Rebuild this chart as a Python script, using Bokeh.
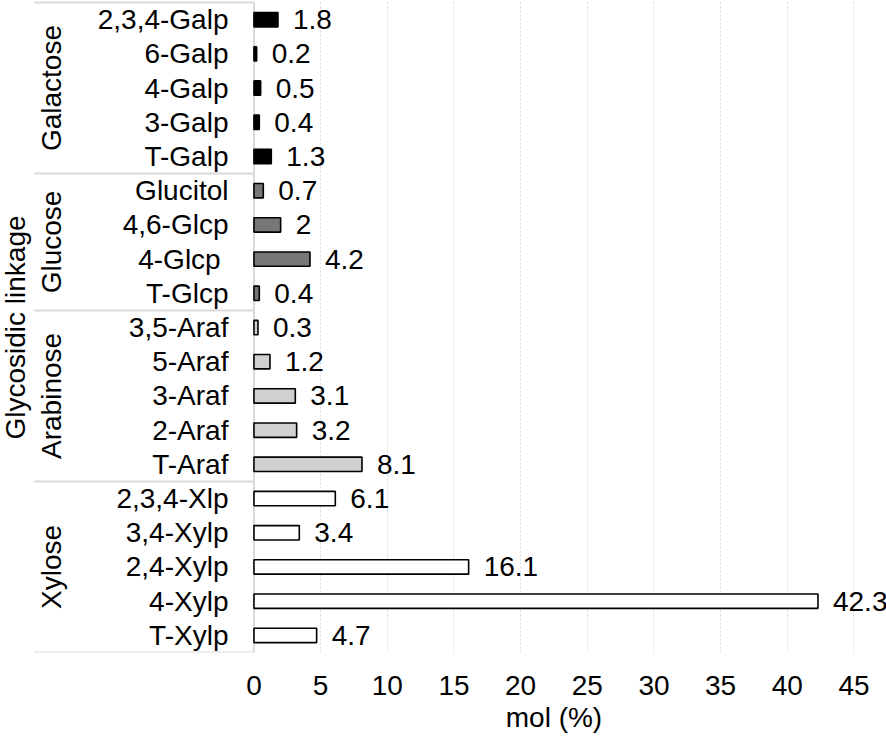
import math
from bokeh.plotting import figure
from bokeh.models import Range1d, FixedTicker, ColumnDataSource, LinearAxis
from bokeh.core.properties import value
from bokeh.embed import file_html
from bokeh.resources import INLINE

# ---- data (top to bottom as in the chart) ----
linkages = ["2,3,4-Galp", "6-Galp", "4-Galp", "3-Galp", "T-Galp",
            "Glucitol", "4,6-Glcp", "4-Glcp ", "T-Glcp",
            "3,5-Araf", "5-Araf", "3-Araf", "2-Araf", "T-Araf",
            "2,3,4-Xlp", "3,4-Xylp", "2,4-Xylp", "4-Xylp", "T-Xylp"]
mol_percent = [1.8, 0.2, 0.5, 0.4, 1.3,
               0.7, 2, 4.2, 0.4,
               0.3, 1.2, 3.1, 3.2, 8.1,
               6.1, 3.4, 16.1, 42.3, 4.7]
groups = (["Galactose"] * 5 + ["Glucose"] * 4 +
          ["Arabinose"] * 5 + ["Xylose"] * 5)
group_names = ["Galactose", "Glucose", "Arabinose", "Xylose"]
x_ticks = [0, 5, 10, 15, 20, 25, 30, 35, 40, 45]
x_title = "mol (%)"
y_title = "Glycosidic linkage"

# ---- styles ----
group_fill = {"Galactose": "#000000", "Glucose": "#777777",
              "Arabinose": "#d0d0d0", "Xylose": "#ffffff"}
FONT = "Liberation Sans"
FS = "28px"
GRAY = "#d9d9d9"

n = len(linkages)
ys = [n - 1 - i for i in range(n)]
labels = [f"{v:g}" for v in mol_percent]

src = ColumnDataSource(dict(y=ys, v=mol_percent, name=linkages, lab=labels,
                            fill=[group_fill[g] for g in groups]))

p = figure(width=886, height=740, output_backend="svg", toolbar_location=None,
           x_range=Range1d(-19.01, 47.44), y_range=Range1d(-0.5, 18.56),
           min_border_left=0, min_border_right=0, min_border_top=0,
           min_border_bottom=88)
p.outline_line_color = None
p.yaxis.visible = False
p.ygrid.visible = False

p.xaxis.ticker = FixedTicker(ticks=x_ticks)
p.xaxis.axis_line_color = None
p.xaxis.major_tick_line_color = None
p.xaxis.minor_tick_line_color = None
p.xaxis.major_tick_out = 0
p.xaxis.major_tick_in = 0
p.xaxis.major_label_text_font = FONT
p.xaxis.major_label_text_font_size = FS
p.xaxis.major_label_text_color = "black"
p.xaxis.major_label_standoff = 23

# x title as a second axis whose only label sits at the middle of the ticks
mid = (x_ticks[0] + x_ticks[-1]) / 2
title_axis = LinearAxis(ticker=FixedTicker(ticks=[mid]),
                        major_label_overrides={mid: x_title},
                        axis_line_color=None, major_tick_line_color=None,
                        minor_tick_line_color=None, major_tick_out=0, major_tick_in=0,
                        major_label_text_font=FONT, major_label_text_font_size=FS,
                        major_label_text_color="black", major_label_standoff=4)
p.add_layout(title_axis, "below")

p.xgrid.ticker = FixedTicker(ticks=x_ticks[1:])
p.xgrid.grid_line_color = GRAY
p.xgrid.grid_line_dash = "2 2"
p.xgrid.grid_line_width = 1

# group box lines
ypos_by_group = {}
for g, y in zip(groups, ys):
    ypos_by_group.setdefault(g, []).append(y)
edges = sorted({min(v) - 0.5 for v in ypos_by_group.values()} |
               {max(v) + 0.5 for v in ypos_by_group.values()})
p.segment(x0=[-16.5] * len(edges), x1=[0] * len(edges), y0=edges, y1=edges,
          line_color=GRAY, line_width=2)
p.segment(x0=[0], x1=[0], y0=[min(edges)], y1=[max(edges)],
          line_color=GRAY, line_width=2)

# bars
p.hbar(y="y", left=0, right="v", height=0.42, source=src,
       fill_color="fill", line_color="black", line_width=1.6)

# value labels
p.text(x="v", y="y", text="lab", source=src, x_offset=15,
       text_align="left", text_baseline="middle",
       text_font=value(FONT), text_font_size=FS, text_color="black")

# category labels
p.text(x=0, y="y", text="name", source=src, x_offset=-25.5,
       text_align="right", text_baseline="middle",
       text_font=value(FONT), text_font_size=FS, text_color="black")

# group labels
gy = [(min(ypos_by_group[g]) + max(ypos_by_group[g])) / 2 for g in group_names]
p.text(x=[0] * len(group_names), y=gy, text=group_names, x_offset=-202.5,
       angle=math.pi / 2, text_align="center", text_baseline="middle",
       text_font=value(FONT), text_font_size=FS, text_color="black")

# y title
p.text(x=[0], y=[(min(edges) + max(edges)) / 2], text=[y_title], x_offset=-238.5,
       angle=math.pi / 2, text_align="center", text_baseline="middle",
       text_font=value(FONT), text_font_size=FS, text_color="black")

open("out.html", "w").write(file_html(p, INLINE))
